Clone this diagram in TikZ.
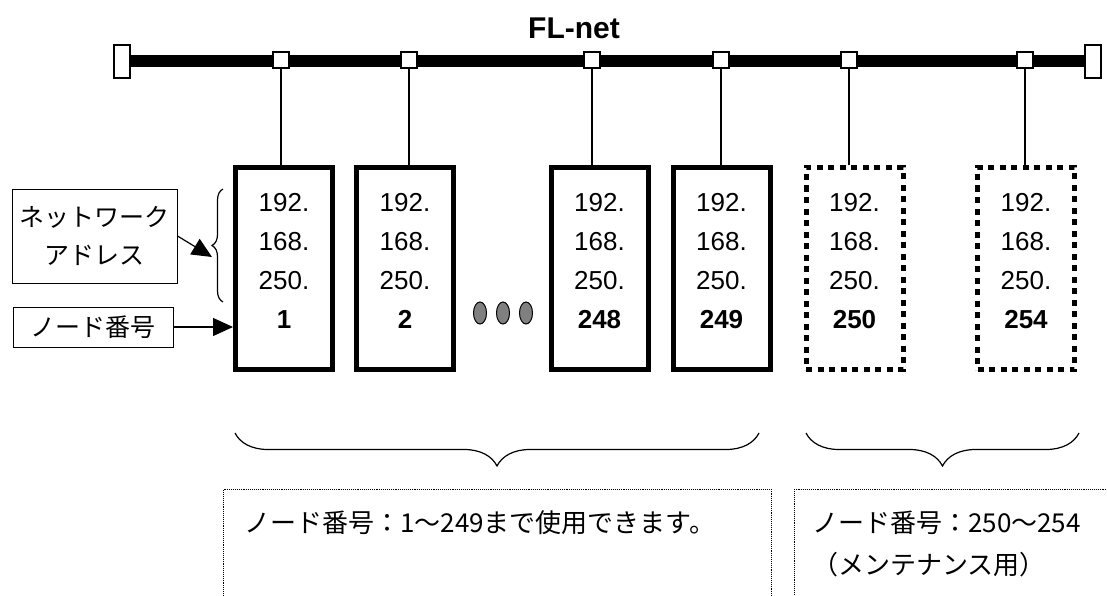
\documentclass[tikz,border=0pt]{standalone}
\usepackage{fontspec}
\setmainfont{Liberation Sans}
\newfontfamily\jpfont{Noto Sans CJK JP}
\usetikzlibrary{arrows.meta,positioning,shapes.geometric,decorations.pathreplacing,calc}
\tikzset{
tap/.style={draw,fill=white,line width=1.2pt,minimum size=16pt,inner sep=0pt},
term/.style={draw,fill=white,line width=1.2pt,minimum width=16pt,minimum height=33pt,inner sep=0pt},
station/.style={draw,line width=5pt,minimum width=97pt,minimum height=202pt,inner sep=0pt},
maint/.style={dash pattern=on 6pt off 5.5pt},
addr/.style={align=center,inner sep=0pt,font=\fontsize{26}{39}\selectfont},
tag/.style={draw,line width=1pt,align=center,inner sep=0pt,font=\jpfont\fontsize{25}{38}\selectfont},
note/.style={draw,densely dotted,line width=0.9pt,inner sep=0pt},
notetext/.style={align=left,inner sep=0pt,anchor=west,font=\jpfont\fontsize{26}{42}\selectfont},
gapdot/.style={draw,fill=gray,ellipse,minimum width=13pt,minimum height=22pt,inner sep=0pt,line width=1pt},
pointer/.style={-{Triangle[length=20pt,width=18pt]},line width=1.2pt},
stub/.style={line width=1.2pt},
curly/.style={decorate,line width=1.2pt}
}
\begin{document}
\begin{tikzpicture}[x=1pt,y=-1pt]
\clip (0,0) rectangle (1107,596);
% network bus
\node[font=\bfseries\fontsize{30}{36}\selectfont,anchor=base] (title) at (574,39) {FL-net};
\node[term] (lterm) at (122,61.5) {};
\node[term] (rterm) at (1093,61.5) {};
\draw[line width=12pt,shorten <=0.6pt,shorten >=0.6pt] (lterm.east) -- (rterm.west);
\foreach \n/\x in {1/281,2/409,248/592,249/721,250/849,254/1025}
  \node[tap] (tap\n) at (\x,60) {};
% stations
\foreach \n/\x in {1/284,2/405,248/599.5,249/721.5}{
  \node[station] (st\n) at (\x,268.5) {};
  \node[addr] (ip\n) at ($(st\n.center)+(0,-7.5)$) {192.\\168.\\250.\\\textbf{\n}};
  \draw[stub] (tap\n) -- (tap\n |- st\n.north);
}
\foreach \n/\x in {250/854.5,254/1026}{
  \node[station,maint] (st\n) at (\x,268.5) {};
  \node[addr] (ip\n) at ($(st\n.center)+(0,-7.5)$) {192.\\168.\\250.\\\textbf{\n}};
  \draw[stub] (tap\n) -- (tap\n |- st\n.north);
}
\foreach \i/\x in {a/480,b/503,c/526}
  \node[gapdot] (dot\i) at (\x,313) {};
% left labels
\node[tag,minimum width=165pt,minimum height=94pt] (addrtag) at (94.5,236) {ネットワーク\\アドレス};
\node[tag,minimum width=160pt,minimum height=40pt] (numtag) at (93,327) {ノード番号};
\draw[curly,decoration={brace,amplitude=11pt}] (223,302) -- (223,189);
\coordinate (bracetip) at (212,257);
\draw[pointer] (addrtag.east) -- (bracetip);
\draw[pointer] (numtag.east) -- (numtag.east -| st1.west);
% ranges
\draw[curly,decoration={brace,amplitude=33pt}] (759,433) -- (235,433);
\draw[curly,decoration={brace,amplitude=33pt}] (1079,433) -- (806,433);
\node[note,minimum width=548pt,minimum height=140pt,anchor=north west] (noteA) at (223,489) {};
\node[note,minimum width=350pt,minimum height=140pt,anchor=north west] (noteB) at (794,489) {};
\node[notetext] (txtA) at (244,523) {ノード番号：1〜249まで使用できます。};
\node[notetext] (txtB) at (812,544) {ノード番号：250〜254\\（メンテナンス用）};
\end{tikzpicture}
\end{document}
